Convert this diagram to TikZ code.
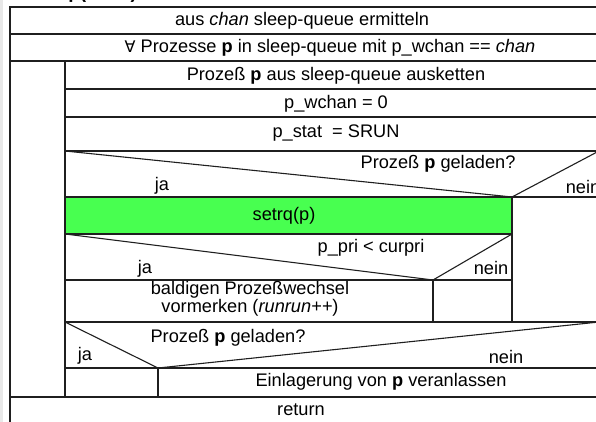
\documentclass[tikz,border=0pt]{standalone}
\usepackage{fontspec}
\setmainfont{Liberation Sans}
\newfontfamily\symfont{DejaVu Sans}
\definecolor{setgreen}{RGB}{72,255,80}
\begin{document}
\begin{tikzpicture}[x=1pt,y=-1pt,
  rule/.style={line width=1.1pt, draw=black!88},
  lbl/.style={inner sep=0pt, font=\fontsize{18.2}{19}\selectfont},
  twoline/.style={inner sep=0pt, align=center, font=\fontsize{18.2}{15}\selectfont},
]
\useasboundingbox (0,0) rectangle (596,422);
\clip (0,0) rectangle (596,422);
\fill[gray!18] (0,0) rectangle (3,422);

% procedure title above the structogram
\node[inner sep=0pt, anchor=base west, font=\bfseries\fontsize{19}{20}\selectfont] (title) at (10,-1) {wakeup(chan)};

% highlighted block
\fill[setgreen] (65,197) rectangle (512,234);

% outer frame and top-level rows
\draw[rule] (10,7) rectangle (599,425);
\draw[rule] (10,34) -- (599,34);
\draw[rule] (10,61) -- (599,61);
\draw[rule] (65,61) -- (65,397);
\draw[rule] (10,397) -- (599,397);

% loop body: simple statements
\draw[rule] (65,89) -- (599,89);
\draw[rule] (65,117) -- (599,117);
\draw[rule] (65,151) -- (599,151);

% first decision
\draw[rule] (65,151) -- (512,197) -- (599,151);
\draw[rule] (65,197) -- (599,197);
\draw[rule] (512,197) -- (512,322);
\draw[rule] (65,234) -- (512,234);

% second decision
\draw[rule] (65,234) -- (433,280) -- (512,234);
\draw[rule] (65,280) -- (512,280);
\draw[rule] (433,280) -- (433,322);
\draw[rule] (65,322) -- (599,322);

% third decision
\draw[rule] (65,322) -- (158,368) -- (599,322);
\draw[rule] (65,368) -- (599,368);
\draw[rule] (158,368) -- (158,397);

% texts
\node[lbl] (t1) at (302,20.5) {aus \textit{chan} sleep-queue ermitteln};
\node[lbl] (t2) at (330,48) {{\symfont\fontsize{16}{17}\selectfont ∀} Prozesse \textbf{p} in sleep-queue mit p\_wchan == \textit{chan}};
\node[lbl] (t3) at (336,76) {Prozeß \textbf{p} aus sleep-queue ausketten};
\node[lbl] (t4) at (336,104) {p\_wchan = 0};
\node[lbl] (t5) at (336,133) {p\_stat~~= SRUN};

\node[lbl] (q1) at (438,163.5) {Prozeß \textbf{p} geladen?};
\node[lbl] (ja1) at (162,186) {ja};
\node[lbl] (nein1) at (583,187) {nein};

\node[lbl] (t6) at (284,216) {setrq(p)};

\node[lbl] (q2) at (371,248) {p\_pri < curpri};
\node[lbl] (ja2) at (145,269) {ja};
\node[lbl] (nein2) at (491,268) {nein};

\node[twoline] (t7) at (250,299) {baldigen Prozeßwechsel\\vormerken (\textit{runrun++})};

\node[lbl] (q3) at (228,338) {Prozeß \textbf{p} geladen?};
\node[lbl] (ja3) at (85,356) {ja};
\node[lbl] (nein3) at (506,357) {nein};

\node[lbl] (t8) at (381,382) {Einlagerung von \textbf{p} veranlassen};
\node[lbl] (t9) at (301,410) {return};
\end{tikzpicture}
\end{document}
